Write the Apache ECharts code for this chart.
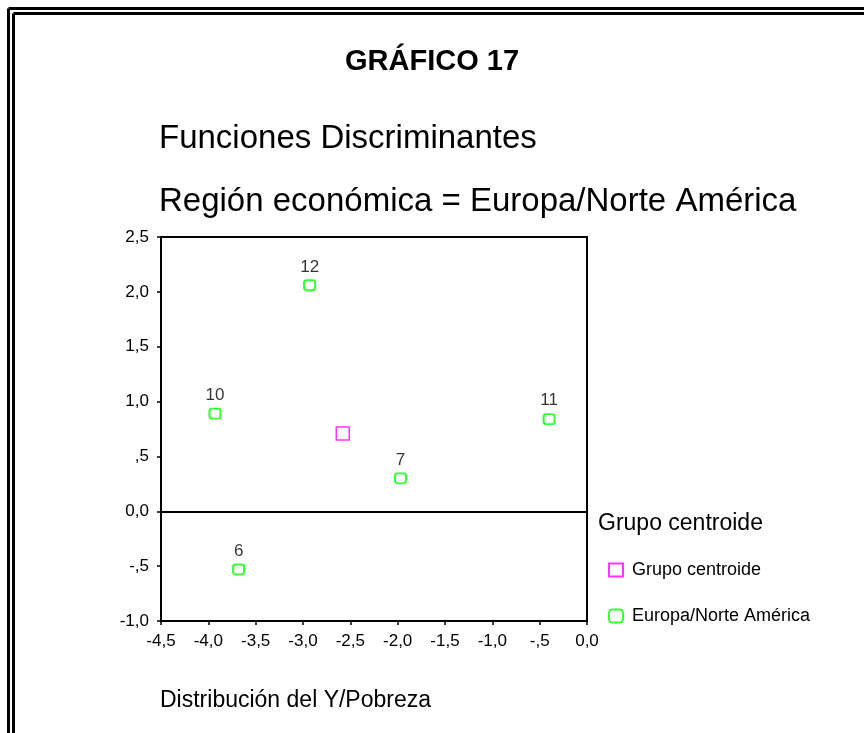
<!DOCTYPE html>
<html>
<head>
<meta charset="utf-8">
<script src="https://cdn.jsdelivr.net/npm/echarts@6/dist/echarts.min.js"></script>
<style>
  html, body { margin: 0; padding: 0; background: #fff; }
  #chart { width: 864px; height: 733px; }
</style>
</head>
<body>
<div id="chart"></div>
<script>
// casos de la región Europa/Norte América
const caseIds = ['12', '10', '11', '7', '6'];
const func1 = [-2.93, -3.93, -0.40, -1.97, -3.68];
const func2 = [2.06, 0.89, 0.84, 0.30, -0.53];

// centroide del grupo
const centroidX = [-2.58];
const centroidY = [0.71];

const FONT = 'Liberation Sans, Arial, sans-serif';

// formato SPSS: coma decimal y sin cero inicial ("-,5")
const fmt = (v) => {
    if (Math.abs(v) < 1e-9) return '0,0';
    let s = Math.abs(v).toFixed(1).replace('.', ',');
    if (Math.abs(v) < 1) s = s.replace(/^0/, '');
    return (v < 0 ? '-' : '') + s;
}

const chart = echarts.init(document.getElementById('chart'));

const option = {
    backgroundColor: '#fff',
    animation: false,
    textStyle: { fontFamily: FONT },
    title: [
        {
            text: 'GRÁFICO 17', left: 'center', top: 42,
            textStyle: { fontFamily: FONT, fontSize: 29, fontWeight: 'bold', color: '#000' }
        },
        {
            text: 'Funciones Discriminantes', left: 154, top: 117,
            textStyle: { fontFamily: FONT, fontSize: 33, fontWeight: 'normal', color: '#000' }
        },
        {
            text: 'Región económica = Europa/Norte América', left: 154, top: 180,
            textStyle: { fontFamily: FONT, fontSize: 33, fontWeight: 'normal', color: '#000' }
        },
        {
            text: 'Grupo centroide', left: 593, top: 507,
            textStyle: { fontFamily: FONT, fontSize: 23, fontWeight: 'normal', color: '#000' }
        },
        {
            text: 'Distribución del Y/Pobreza', left: 155, top: 684,
            textStyle: { fontFamily: FONT, fontSize: 23, fontWeight: 'normal', color: '#000' }
        }
    ],
    legend: {
        orient: 'vertical',
        left: 603,
        top: 556,
        itemWidth: 14,
        itemHeight: 13,
        itemGap: 28,
        textStyle: { fontFamily: FONT, fontSize: 18, color: '#000', padding: [0, 0, 0, 4] },
        data: [
            { name: 'Grupo centroide', icon: 'rect' },
            { name: 'Europa/Norte América', icon: 'roundRect' }
        ]
    },
    grid: {
        left: 161, right: 277, top: 237, bottom: 112,
        show: true, borderColor: '#000', borderWidth: 2
    },
    xAxis: {
        type: 'value',
        min: -4.5, max: 0, interval: 0.5,
        axisLine: { show: true, onZero: false, lineStyle: { color: '#000', width: 2 } },
        axisTick: { show: true, length: 4, lineStyle: { color: '#000', width: 1.5 } },
        splitLine: { show: false },
        axisLabel: { color: '#000', fontSize: 17, margin: 12, formatter: fmt }
    },
    yAxis: {
        type: 'value',
        min: -1, max: 2.5, interval: 0.5,
        axisLine: { show: true, onZero: false, lineStyle: { color: '#000', width: 2 } },
        axisTick: { show: true, length: 4, lineStyle: { color: '#000', width: 1.5 } },
        splitLine: { show: false },
        axisLabel: { color: '#000', fontSize: 17, margin: 12, formatter: fmt }
    },
    series: [
        {
            name: 'Grupo centroide',
            type: 'scatter',
            symbol: 'rect',
            symbolSize: 13,
            itemStyle: { color: '#fff', borderColor: '#ff00ff', borderWidth: 1.5 },
            data: centroidX.map((x, i) => [x, centroidY[i]])
        },
        {
            name: 'Europa/Norte América',
            type: 'scatter',
            symbol: 'roundRect',
            symbolSize: [11, 10],
            itemStyle: { color: '#fff', borderColor: '#00ff00', borderWidth: 2 },
            label: {
                show: true, position: 'top', distance: 4,
                color: '#000', fontSize: 17, fontFamily: FONT,
                formatter: (p) => p.value[2]
            },
            data: func1.map((x, i) => [x, func2[i], caseIds[i]]),
            markLine: {
                silent: true,
                symbol: ['none', 'none'],
                label: { show: false },
                lineStyle: { color: '#000', width: 2, type: 'solid' },
                data: [{ yAxis: 0 }]
            }
        }
    ],
    // marco doble del gráfico
    graphic: [
        { type: 'line', shape: { x1: 8.5, y1: 8.5, x2: 8.5, y2: 733 }, style: { stroke: '#000', lineWidth: 3 } },
        { type: 'line', shape: { x1: 8.5, y1: 8.5, x2: 864, y2: 8.5 }, style: { stroke: '#000', lineWidth: 3 } },
        { type: 'line', shape: { x1: 13.5, y1: 13.5, x2: 13.5, y2: 733 }, style: { stroke: '#000', lineWidth: 3 } },
        { type: 'line', shape: { x1: 13.5, y1: 13.5, x2: 864, y2: 13.5 }, style: { stroke: '#000', lineWidth: 3 } }
    ]
};

chart.setOption(option);
</script>
</body>
</html>
